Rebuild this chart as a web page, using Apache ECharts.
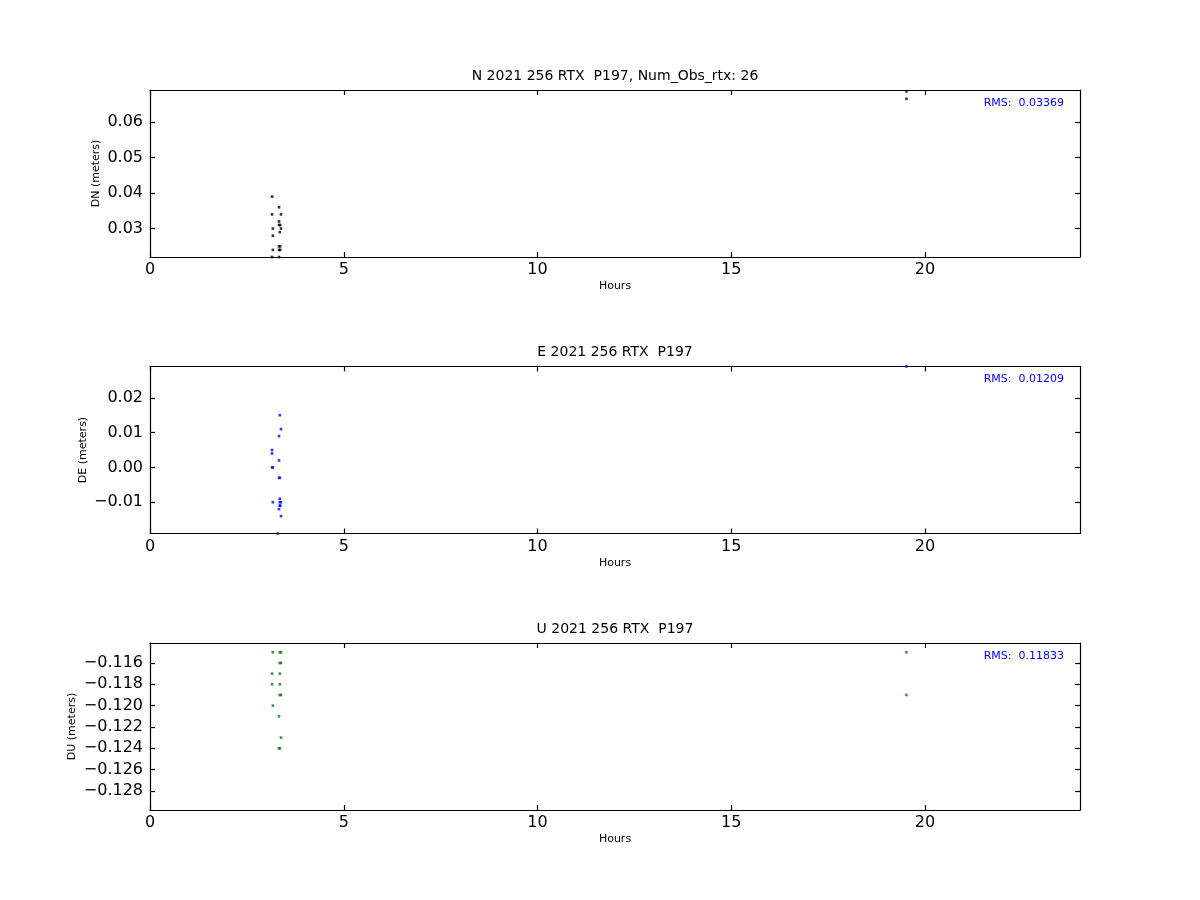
<!DOCTYPE html>
<html>
<head>
<meta charset="utf-8">
<script src="https://cdn.jsdelivr.net/npm/echarts@6/dist/echarts.min.js"></script>
<style>html,body{margin:0;padding:0;background:#fff}#c{width:1200px;height:900px}</style>
</head>
<body>
<div id="c"></div>
<script>
// ---- data (hours, meters) ----
const hoursN = [3.15, 3.33, 3.15, 3.38, 3.33, 3.33, 3.36, 3.17, 3.38, 3.35, 3.17, 3.33, 3.36, 3.17, 3.33, 3.36, 3.15, 3.33, 19.52, 19.52];
const valuesN = [0.039, 0.036, 0.034, 0.034, 0.032, 0.031, 0.031, 0.030, 0.030, 0.029, 0.028, 0.025, 0.025, 0.024, 0.024, 0.024, 0.022, 0.022, 0.0686, 0.0665];

const hoursE = [3.35, 3.38, 3.33, 3.15, 3.15, 3.33, 3.15, 3.17, 3.33, 3.35, 3.35, 3.17, 3.35, 3.38, 3.35, 3.36, 3.33, 3.38, 3.30, 19.52];
const valuesE = [0.015, 0.011, 0.009, 0.005, 0.004, 0.002, 0.000, 0.000, -0.003, -0.003, -0.009, -0.010, -0.010, -0.010, -0.011, -0.011, -0.012, -0.014, -0.019, 0.029];

const hoursU = [3.17, 3.35, 3.38, 3.35, 3.38, 3.15, 3.35, 3.15, 3.35, 3.35, 3.38, 3.17, 3.33, 3.38, 3.33, 3.35, 19.52, 19.52];
const valuesU = [-0.115, -0.115, -0.115, -0.116, -0.116, -0.117, -0.117, -0.118, -0.118, -0.119, -0.119, -0.120, -0.121, -0.123, -0.124, -0.124, -0.115, -0.119];

// ---- axes ----
const xTicks = [0, 5, 10, 15, 20];
const xRange = [0, 24];
const yTicksN = [0.03, 0.04, 0.05, 0.06];
const yRangeN = [0.022, 0.069];
const yTicksE = [-0.01, 0.00, 0.01, 0.02];
const yRangeE = [-0.019, 0.029];
const yTicksU = [-0.128, -0.126, -0.124, -0.122, -0.120, -0.118, -0.116];
const yRangeU = [-0.12978, -0.11413];

// ---- texts ----
const titles = ['N 2021 256 RTX  P197, Num_Obs_rtx: 26', 'E 2021 256 RTX  P197', 'U 2021 256 RTX  P197'];
const yNames = ['DN (meters)', 'DE (meters)', 'DU (meters)'];
const rmsTexts = ['RMS:  0.03369', 'RMS:  0.01209', 'RMS:  0.11833'];
const xName = 'Hours';

const FONT = 'DejaVu Sans';
const gridTops = [90, 366.5, 643];
const gridH = 167;
const colors = ['#000000', '#0000ff', '#008000'];
const yDecimals = [2, 2, 3];
const yGaps = [48, 61, 72];

const panels = [
  {h: hoursN, v: valuesN, ticks: yTicksN, range: yRangeN},
  {h: hoursE, v: valuesE, ticks: yTicksE, range: yRangeE},
  {h: hoursU, v: valuesU, ticks: yTicksU, range: yRangeU}
];

function fmt(v, d) {
  const s = Math.abs(v).toFixed(d);
  return (v < -1e-12 ? '\u2212' : '') + s;
}

const lineStyle = {color: '#000', width: 1.2};
const grid = [], xAxis = [], yAxis = [], series = [], graphic = [];

panels.forEach((p, i) => {
  grid.push({left: 150, right: 120, top: gridTops[i], height: gridH, containLabel: false});
  // bottom x
  xAxis.push({
    type: 'value', gridIndex: i, min: xRange[0], max: xRange[1], position: 'bottom',
    name: xName, nameLocation: 'middle', nameGap: 24,
    nameTextStyle: {fontFamily: FONT, fontSize: 11, color: '#000'},
    axisLine: {show: true, onZero: false, lineStyle},
    axisTick: {show: true, inside: true, length: 5, customValues: xTicks, lineStyle},
    axisLabel: {show: true, customValues: xTicks, margin: 5, fontFamily: FONT, fontSize: 16, color: '#000'},
    splitLine: {show: false}
  });
  // top x
  xAxis.push({
    type: 'value', gridIndex: i, min: xRange[0], max: xRange[1], position: 'top',
    axisLine: {show: true, onZero: false, lineStyle},
    axisTick: {show: true, inside: true, length: 5, customValues: xTicks, lineStyle},
    axisLabel: {show: false},
    splitLine: {show: false}
  });
  // left y
  yAxis.push({
    type: 'value', gridIndex: i, min: p.range[0], max: p.range[1], position: 'left',
    name: yNames[i], nameLocation: 'middle', nameGap: yGaps[i], nameRotate: 90,
    nameMoveOverlap: false,
    nameTextStyle: {fontFamily: FONT, fontSize: 11, color: '#000'},
    axisLine: {show: true, onZero: false, lineStyle},
    axisTick: {show: true, inside: true, length: 5, customValues: p.ticks, lineStyle},
    axisLabel: {show: true, customValues: p.ticks, margin: 7, fontFamily: FONT, fontSize: 16, color: '#000',
      formatter: (v) => fmt(v, yDecimals[i])},
    splitLine: {show: false}
  });
  // right y
  yAxis.push({
    type: 'value', gridIndex: i, min: p.range[0], max: p.range[1], position: 'right',
    axisLine: {show: true, onZero: false, lineStyle},
    axisTick: {show: true, inside: true, length: 5, customValues: p.ticks, lineStyle},
    axisLabel: {show: false},
    splitLine: {show: false}
  });
  series.push({
    type: 'scatter', xAxisIndex: i * 2, yAxisIndex: i * 2,
    data: p.h.map((t, k) => [t, p.v[k]]),
    symbol: 'rect', symbolSize: 2.6, clip: true,
    itemStyle: {color: colors[i]},
    silent: true
  });
  graphic.push({
    type: 'text', x: 615, y: gridTops[i] - 14,
    style: {text: titles[i], fill: '#000', font: '14px "DejaVu Sans"', textAlign: 'center', textVerticalAlign: 'middle'}
  });
  graphic.push({
    type: 'text', x: 1064, y: gridTops[i] + 13,
    style: {text: rmsTexts[i], fill: '#0000ff', font: '11px "DejaVu Sans"', textAlign: 'right', textVerticalAlign: 'middle'}
  });
});

const chart = echarts.init(document.getElementById('c'), null, {renderer: 'canvas'});
chart.setOption({
  animation: false,
  backgroundColor: '#ffffff',
  grid, xAxis, yAxis, series, graphic
});
</script>
</body>
</html>
